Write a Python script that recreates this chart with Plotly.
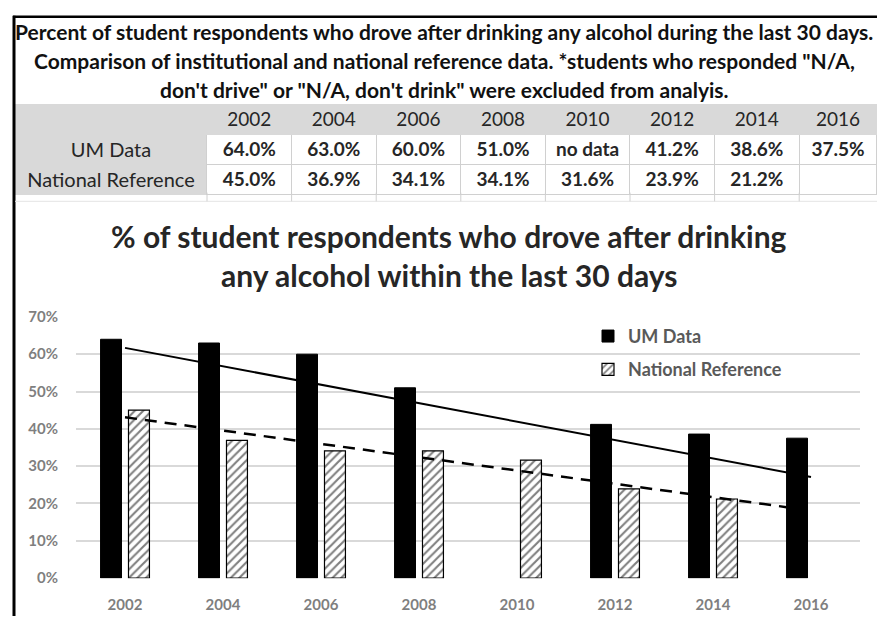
import numpy as np
import plotly.graph_objects as go

# ---------------- data ----------------
years = ["2002", "2004", "2006", "2008", "2010", "2012", "2014", "2016"]
um_data = [64.0, 63.0, 60.0, 51.0, None, 41.2, 38.6, 37.5]
national_ref = [45.0, 36.9, 34.1, 34.1, 31.6, 23.9, 21.2, None]
series_names = ["UM Data", "National Reference"]

table_title_lines = [
    "Percent of student respondents who drove after drinking any alcohol during the last 30 days.",
    "Comparison of institutional and national reference data. *students who responded \"N/A,",
    "don't drive\" or \"N/A, don't drink\" were excluded from analyis.",
]
chart_title_lines = [
    "% of student respondents who drove after drinking",
    "any alcohol within the last 30 days",
]
y_tick_vals = [0, 10, 20, 30, 40, 50, 60, 70]
y_tick_text = ["0%", "10%", "20%", "30%", "40%", "50%", "60%", "70%"]

W, H = 877, 624
FONT = "Lato"
NBSP = "\u00a0"


def px(p):
    return p / W


def py(p):
    return 1 - p / H


idx = np.arange(len(years))

# Excel-style linear trendlines (Excel plots the text "no data" as zero)
um_for_trend = [v if v is not None else 0.0 for v in um_data]
um_b, um_a = np.polyfit(idx, um_for_trend, 1)
nat_idx = np.array([i for i, v in enumerate(national_ref) if v is not None])
nat_vals = [v for v in national_ref if v is not None]
nat_b, nat_a = np.polyfit(nat_idx, nat_vals, 1)
um_tx = np.array([0, idx[-1]])
nat_tx = np.array([0, nat_idx[-1] + 0.75])

fig = go.Figure()

# ---------------- table ----------------
def nb(s):
    # non-breaking spaces keep plotly's table from wrapping / growing the rows
    return s.replace(" ", NBSP)


def fmt(v, missing):
    return nb(missing) if v is None else f"{v:.1f}%"


cell_cols = [[nb(s) for s in series_names]] + [
    [fmt(u, "no data"), fmt(n, "")] for u, n in zip(um_data, national_ref)
]
gray = "#d9d9d9"
fig.add_trace(go.Table(
    domain=dict(x=[px(15), 1], y=[py(200), py(97)]),
    columnwidth=[192] + [84.6] * 7 + [78],
    header=dict(
        values=[""] + years,
        fill_color=gray,
        line=dict(color=gray, width=1),
        align="center",
        height=30,
        font=dict(family=FONT, size=19, color="#262626"),
    ),
    cells=dict(
        values=cell_cols,
        fill_color=[gray] + ["white"] * 8,
        line=dict(color=[gray] + ["#d0d0d0"] * 8, width=1),
        align="center",
        height=30,
        font=dict(family=FONT, size=[20] + [19] * 8, color="#262626",
                  weight=["normal"] + ["bold"] * 8),
    ),
))

# ---------------- bars ----------------
fig.add_trace(go.Bar(
    x=idx, y=um_data, name=series_names[0], legendgroup="a",
    marker=dict(color="black", line=dict(color="black", width=1)),
))
fig.add_trace(go.Bar(
    x=idx, y=national_ref, name=series_names[1], legendgroup="b",
    marker=dict(
        color="white",
        pattern=dict(shape="/", fgcolor="black", bgcolor="white", size=6, solidity=0.35),
        line=dict(color="black", width=1.2),
    ),
))

# ---------------- trendlines ----------------
fig.add_trace(go.Scatter(
    x=um_tx, y=um_a + um_b * um_tx, mode="lines", showlegend=False, hoverinfo="skip",
    line=dict(color="black", width=2),
))
fig.add_trace(go.Scatter(
    x=nat_tx, y=nat_a + nat_b * nat_tx, mode="lines", showlegend=False, hoverinfo="skip",
    line=dict(color="black", width=2.5, dash="12px,8px"),
))

# ---------------- annotations ----------------
annotations = []
for line, yy in zip(table_title_lines, [22, 52, 82]):
    annotations.append(dict(
        text=f"<b>{line}</b>", x=px(444), y=py(yy), xref="paper", yref="paper",
        xanchor="center", yanchor="middle", showarrow=False,
        font=dict(family=FONT, size=21, color="#111111"),
    ))
for line, yy in zip(chart_title_lines, [233, 273]):
    annotations.append(dict(
        text=f"<b>{line}</b>", x=px(449), y=py(yy), xref="paper", yref="paper",
        xanchor="center", yanchor="middle", showarrow=False,
        font=dict(family=FONT, size=30, color="#262626"),
    ))

# ---------------- frame / decorative lines ----------------
shapes = [
    dict(type="line", xref="paper", yref="paper", x0=px(14), x1=px(14), y0=0, y1=py(6),
         line=dict(color="black", width=3)),
    dict(type="line", xref="paper", yref="paper", x0=px(13), x1=1, y0=py(7), y1=py(7),
         line=dict(color="black", width=2.5)),
    dict(type="line", xref="paper", yref="paper", x0=px(15), x1=1, y0=py(197), y1=py(197),
         line=dict(color="#e4e4e4", width=1)),
]
for k in range(8):
    xb = 207 + 84.6 * k
    shapes.append(dict(type="line", xref="paper", yref="paper", x0=px(xb), x1=px(xb),
                       y0=py(197), y1=py(188), line=dict(color="#d0d0d0", width=1)))

fig.update_layout(
    width=W, height=H,
    margin=dict(l=0, r=0, t=0, b=0),
    paper_bgcolor="white", plot_bgcolor="white",
    barmode="group", bargap=0.43, bargroupgap=0.25,
    font=dict(family=FONT),
    showlegend=True,
    legend=dict(
        x=px(588), y=py(317), xanchor="left", yanchor="top",
        bgcolor="rgba(0,0,0,0)", traceorder="grouped", tracegroupgap=7,
        font=dict(family=FONT, size=18, color="#595959", weight="bold"),
    ),
    xaxis=dict(
        domain=[px(76), px(860)], range=[-0.5, 7.5],
        tickmode="array", tickvals=idx, ticktext=years,
        showgrid=False, zeroline=False, showline=False, ticks="",
        ticklabelstandoff=16,
        tickfont=dict(family=FONT, size=15, color="#7f7f7f", weight="bold"),
        fixedrange=True,
    ),
    yaxis=dict(
        domain=[py(585), py(316)], range=[0, 70],
        tickmode="array", tickvals=y_tick_vals, ticktext=y_tick_text,
        showgrid=True, gridcolor="#d9d9d9", gridwidth=1.5,
        zeroline=False, showline=False, ticks="", ticklabelstandoff=17,
        tickfont=dict(family=FONT, size=15, color="#7f7f7f", weight="bold"),
        fixedrange=True,
    ),
    annotations=annotations,
    shapes=shapes,
)

fig.write_html("out.html")
